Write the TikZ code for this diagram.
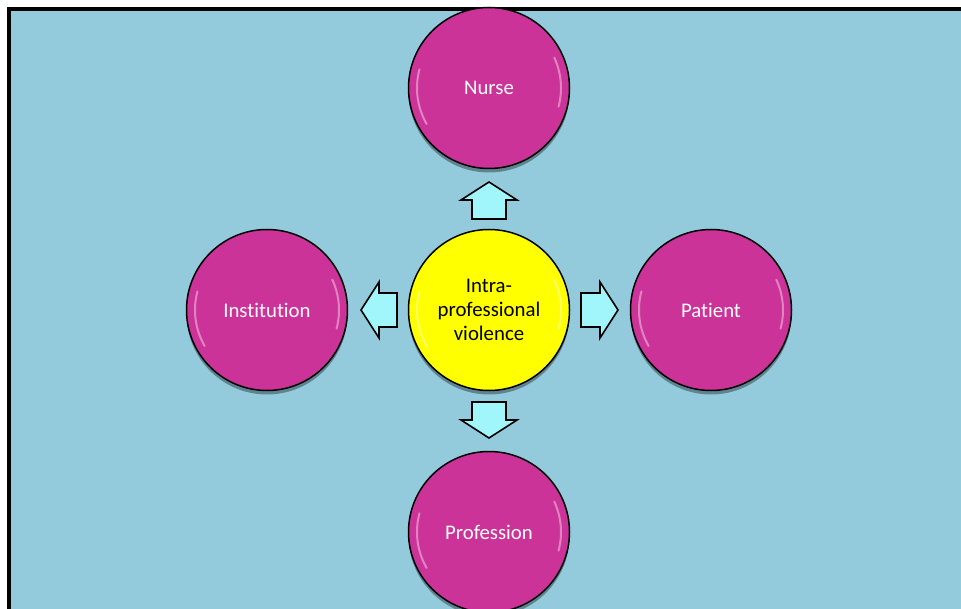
\documentclass[tikz,border=0pt]{standalone}
\usepackage{fontspec}
\setmainfont[Ligatures={NoCommon}]{Carlito}
\usetikzlibrary{shadows}
\definecolor{bgblue}{RGB}{147,203,220}
\definecolor{ballmag}{RGB}{204,51,153}
\definecolor{ballyel}{RGB}{255,255,0}
\definecolor{arrcyan}{RGB}{160,246,250}
\tikzset{
  ball/.style={circle, draw=black, line width=1.5pt, minimum size=161pt, inner sep=0pt,
    align=center, font=\fontsize{20.8}{24}\selectfont,
    drop shadow={shadow xshift=0pt, shadow yshift=-4pt, opacity=0.35, fill=black}},
  magball/.style={ball, fill=ballmag, text=white},
  yelball/.style={ball, fill=ballyel, text=black},
  arrowbox/.style={fill=arrcyan, draw=black, line width=1.6pt, line join=miter},
  gloss/.style={white, line width=2pt, opacity=0.4, line cap=round}
}
\begin{document}
\begin{tikzpicture}[x=1pt,y=-1pt]
\useasboundingbox (0,0) rectangle (961,609);
\fill[white] (0,0) rectangle (961,609);
\fill[bgblue] (9,9) rectangle (975,625);
\draw[black, line width=4pt] (9,625) -- (9,9) -- (975,9);

\node[yelball] (c) at (489,310) {Intra-\\professional\\violence};
\node[magball] (n) at (489,88) {Nurse};
\node[magball] (i) at (267,310) {Institution};
\node[magball] (p) at (711,310) {Patient};
\node[magball] (f) at (489,532) {Profession};

\foreach \b in {c,n,i,p,f}{
  \draw[gloss] (\b.center) ++(150:72) arc (150:195:72);
  \draw[gloss] (\b.center) ++(-25:72) arc (-25:15:72);
}

% up arrow
\coordinate (au) at (489,201);
\draw[arrowbox] ([shift={(0,-19)}]au) -- ++(28,18) -- ++(-11,0) -- ++(0,19) -- ++(-34,0) -- ++(0,-19) -- ++(-11,0) -- cycle;
% down arrow
\coordinate (ad) at (489,420);
\draw[arrowbox] ([shift={(0,18)}]ad) -- ++(28,-18) -- ++(-11,0) -- ++(0,-18) -- ++(-34,0) -- ++(0,18) -- ++(-11,0) -- cycle;
% left arrow
\coordinate (al) at (379,310);
\draw[arrowbox] ([shift={(-18,0)}]al) -- ++(18,-28) -- ++(0,11) -- ++(18,0) -- ++(0,34) -- ++(-18,0) -- ++(0,11) -- cycle;
% right arrow
\coordinate (ar) at (600,310);
\draw[arrowbox] ([shift={(18,0)}]ar) -- ++(-18,-28) -- ++(0,11) -- ++(-19,0) -- ++(0,34) -- ++(19,0) -- ++(0,11) -- cycle;
\end{tikzpicture}
\end{document}
